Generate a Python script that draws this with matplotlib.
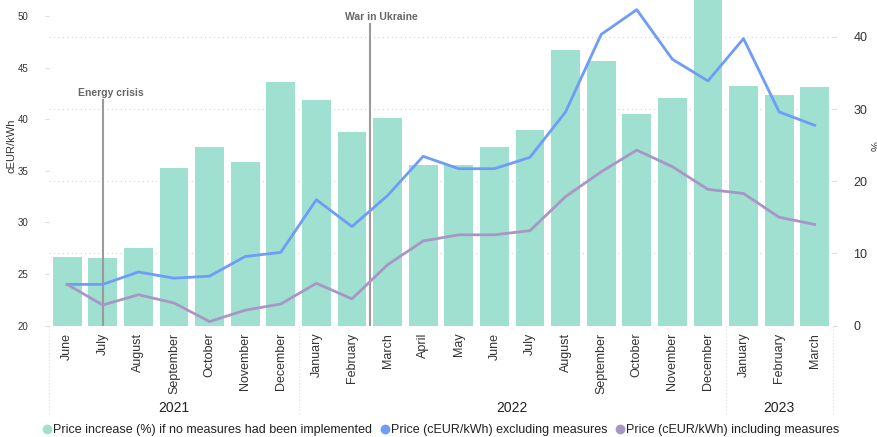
import numpy as np
import matplotlib
matplotlib.use('Agg')
import matplotlib.pyplot as plt
from matplotlib.lines import Line2D

plt.rcParams['font.family'] = ['Liberation Sans', 'DejaVu Sans']

months = ['June', 'July', 'August', 'September', 'October', 'November', 'December',
          'January', 'February', 'March', 'April', 'May', 'June', 'July', 'August',
          'September', 'October', 'November', 'December', 'January', 'February', 'March']
years = ['2021', '2022', '2023']
year_sizes = [7, 12, 3]

# % increase if no measures had been implemented (right axis)
increase_pct = [9.5, 9.4, 10.7, 21.9, 24.8, 22.6, 33.7, 31.2, 26.8, 28.8, 22.2,
                22.2, 24.8, 27.1, 38.2, 36.6, 29.3, 31.5, 45.5, 33.2, 32.0, 33.0]
# cEUR/kWh (left axis)
price_excl = [24.0, 24.0, 25.2, 24.6, 24.8, 26.7, 27.1, 32.2, 29.6, 32.6, 36.4,
              35.2, 35.2, 36.3, 40.7, 48.2, 50.6, 45.8, 43.7, 47.8, 40.7, 39.4]
price_incl = [24.0, 22.0, 23.0, 22.2, 20.4, 21.5, 22.1, 24.1, 22.6, 25.9, 28.2,
              28.8, 28.8, 29.2, 32.5, 34.9, 37.0, 35.4, 33.2, 32.8, 30.5, 29.8]

events = [('Energy crisis', 1.0, 41.9), ('War in Ukraine', 8.5, 49.2)]

c_bar = '#a0e0d0'
c_excl = '#6e9cf8'
c_incl = '#a796c6'

x = np.arange(len(months))

fig = plt.figure(figsize=(8.77, 4.37), dpi=100)
ax = fig.add_axes([0.0563, 0.2547, 0.893, 0.709])
ax2 = ax.twinx()
ax.set_zorder(ax2.get_zorder() + 1)
ax.patch.set_visible(False)

# bars on the % axis (December 2022 runs past the top, as in the original)
bars = ax2.bar(x, increase_pct, width=0.81, color=c_bar, zorder=2)
for b in bars:
    b.set_clip_on(False)
ax2.set_ylim(0, 42.9)
ax2.set_yticks([0, 10, 20, 30, 40])
ax2.yaxis.grid(True, ls=(0, (1, 3)), color='#d0d0d0', lw=0.8, zorder=0)
ax2.set_axisbelow(True)
ax2.set_ylabel('%', fontsize=8, color='#333333')
ax2.yaxis.set_label_coords(1.05, 0.58)

# price lines
ax.plot(x, price_excl, color=c_excl, lw=2.0, zorder=4, clip_on=False)
ax.plot(x, price_incl, color=c_incl, lw=2.0, zorder=4, clip_on=False)
ax.set_ylim(20, 50)
ax.set_yticks([20, 25, 30, 35, 40, 45, 50])
ax.set_xlim(-0.5, len(months) - 0.5)
ax.set_ylabel('cEUR/kWh', fontsize=8, color='#333333')
ax.yaxis.set_label_coords(-0.042, 0.58)

# event markers
for label, xe, top in events:
    ax.plot([xe, xe], [20, top], color='#9a9a9a', lw=1.5, zorder=3)
    ax.text(xe - 0.7, top + 0.65, label, fontsize=7.5, fontweight='bold',
            color='#666666', ha='left', va='center')

ax.set_xticks(x)
ax.set_xticklabels(months, rotation=90, fontsize=9, color='#333333')
ax.tick_params(axis='x', length=0, pad=5)
ax.tick_params(axis='y', length=3, color='#dddddd', labelsize=7, labelcolor='#333333', pad=12)
ax2.tick_params(axis='y', length=3, color='#dddddd', labelsize=9, labelcolor='#333333', pad=12)

for a in (ax, ax2):
    for s in a.spines.values():
        s.set_visible(False)

# year groups
edges = np.concatenate([[0], np.cumsum(year_sizes)]) - 0.5
for e in edges:
    ax.plot([e, e], [0, -0.29], transform=ax.get_xaxis_transform(), clip_on=False,
            color='#dddddd', lw=0.8, ls=(0, (1, 2)))
for yr, lo, hi in zip(years, edges[:-1], edges[1:]):
    ax.text((lo + hi) / 2, -0.265, yr, transform=ax.get_xaxis_transform(),
            ha='center', va='center', fontsize=10, color='#222222')

handles = [Line2D([], [], ls='', marker='o', ms=6, color=c) for c in (c_bar, c_excl, c_incl)]
labels = ['Price increase (%) if no measures had been implemented',
          'Price (cEUR/kWh) excluding measures',
          'Price (cEUR/kWh) including measures']
fig.legend(handles, labels, loc='center', bbox_to_anchor=(0.502, 0.016), ncol=3,
           frameon=False, fontsize=9, handletextpad=0.0, columnspacing=0.5,
           handlelength=1.0, labelcolor='#222222')

fig.savefig('out.png', dpi=100)
